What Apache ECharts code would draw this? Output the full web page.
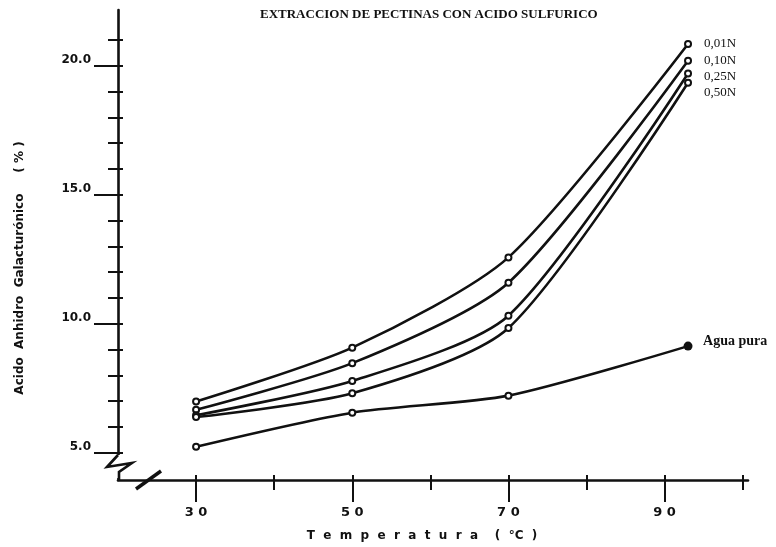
<!DOCTYPE html>
<html>
<head>
<meta charset="utf-8">
<script src="https://cdn.jsdelivr.net/npm/echarts@6/dist/echarts.min.js"></script>
<style>html,body{margin:0;padding:0;background:#fff}#chart{width:776px;height:547px}</style>
</head>
<body>
<div id="chart"></div>
<script>
// datos
const temperaturas = [30, 50, 70, 93];
const nombres = ['0,01N', '0,10N', '0,25N', '0,50N', 'Agua pura'];
const acido001 = [6.98, 9.07, 12.57, 20.84];
const acido010 = [6.66, 8.47, 11.59, 20.19];
const acido025 = [6.45, 7.78, 10.31, 19.70];
const acido050 = [6.38, 7.30, 9.83, 19.34];
const aguaPura = [5.23, 6.55, 7.21, 9.13];
const xEtiquetas = [30, 50, 70, 90];
const xMenores = [40, 60, 80, 100];
const xTodos = [30, 40, 50, 60, 70, 80, 90, 100];
const yEtiquetas = [5, 10, 15, 20];
const yMenores = [6, 7, 8, 9, 11, 12, 13, 14, 16, 17, 18, 19, 21];
const yTodos = [5, 6, 7, 8, 9, 10, 11, 12, 13, 14, 15, 16, 17, 18, 19, 20, 21];

const negro = '#111';
const xMin = 20, xMax = 100.68, yMin = 3.94, yMax = 22.16;

function ejeX(extra) {
    return Object.assign({
        type: 'value', position: 'bottom', min: xMin, max: xMax,
        axisLine: {show: false},
        axisLabel: {show: false},
        splitLine: {show: false}
    }, extra);
}
function ejeY(extra) {
    return Object.assign({
        type: 'value', position: 'left', min: yMin, max: yMax,
        axisLine: {show: false},
        axisLabel: {show: false},
        splitLine: {show: false}
    }, extra);
}

const offsets = [[8, 0], [8, 0], [8, 3], [8, 10], [7, -5]];
const valores = [acido001, acido010, acido025, acido050, aguaPura];

const series = valores.map((vals, i) => ({
    type: 'line',
    name: nombres[i],
    smooth: 0.25,
    symbol: 'emptyCircle',
    symbolSize: 6,
    lineStyle: {color: negro, width: 2.6},
    itemStyle: {color: negro, borderWidth: 1.6},
    data: vals.map((v, j) => {
        const p = {value: [temperaturas[j], v]};
        if (i === 4 && j === vals.length - 1) {
            p.symbol = 'circle'; p.symbolSize = 9;
        }
        return p;
    }),
    endLabel: {
        show: true,
        formatter: nombres[i],
        offset: offsets[i],
        color: negro,
        fontFamily: 'Liberation Serif',
        fontSize: i === 4 ? 14 : 13,
        fontWeight: i === 4 ? 'bold' : 'normal'
    },
    z: 3
}));

const chart = echarts.init(document.getElementById('chart'));
chart.setOption({
    animation: false,
    backgroundColor: '#fff',
    title: {
        text: 'EXTRACCION DE PECTINAS CON ACIDO SULFURICO',
        left: 255, top: 3,
        textStyle: {fontFamily: 'Liberation Serif', fontSize: 13, fontWeight: 'bold', color: negro}
    },
    grid: {left: 118, right: 28, top: 10, bottom: 67},
    xAxis: [
        ejeX({
            axisLine: {show: true, lineStyle: {color: negro, width: 2.6}},
            axisTick: {show: true, customValues: xEtiquetas, length: 22, lineStyle: {color: negro, width: 2}},
            axisLabel: {
                show: true, customValues: xEtiquetas, margin: 26,
                formatter: v => String(v).split('').join(' '),
                color: negro, fontFamily: 'DejaVu Sans', fontSize: 13, fontWeight: 'bold'
            },
            name: 'T  e  m  p  e  r  a  t  u  r  a    (  °C  )',
            nameLocation: 'middle', nameGap: 50,
            nameTextStyle: {color: negro, fontFamily: 'DejaVu Sans', fontSize: 12, fontWeight: 'bold', padding: [0, 22, 0, 0]}
        }),
        ejeX({axisTick: {show: true, customValues: xMenores, length: 10, lineStyle: {color: negro, width: 2}}}),
        ejeX({axisTick: {show: true, inside: true, customValues: xTodos, length: 5, lineStyle: {color: negro, width: 2}}})
    ],
    yAxis: [
        ejeY({
            axisLine: {show: true, lineStyle: {color: negro, width: 2.6}},
            axisTick: {show: true, customValues: yEtiquetas, length: 24, lineStyle: {color: negro, width: 2}},
            axisLabel: {
                show: true, customValues: yEtiquetas, margin: 27,
                formatter: v => v.toFixed(1),
                verticalAlign: 'bottom',
                color: negro, fontFamily: 'DejaVu Sans', fontSize: 12, fontWeight: 'bold'
            },
            name: 'Acido  Anhidro  Galacturónico     ( % )',
            nameLocation: 'middle', nameGap: 92, nameRotate: 90,
            nameTextStyle: {color: negro, fontFamily: 'DejaVu Sans', fontSize: 12, fontWeight: 'bold', padding: [0, 46, 0, 0]}
        }),
        ejeY({axisTick: {show: true, customValues: yMenores, length: 10, lineStyle: {color: negro, width: 2}}}),
        ejeY({axisTick: {show: true, inside: true, customValues: yTodos, length: 5, lineStyle: {color: negro, width: 2}}})
    ],
    series: series,
    graphic: [
        // corte de los ejes
        {type: 'rect', shape: {x: 110, y: 455, width: 16, height: 23}, style: {fill: '#fff'}, z: 10},
        {type: 'polyline', shape: {points: [[118, 455], [107, 467], [132, 463], [119, 472], [119, 480]]},
            style: {stroke: negro, lineWidth: 2.6, fill: null}, z: 11},
        {type: 'line', shape: {x1: 136, y1: 489, x2: 161, y2: 471},
            style: {stroke: negro, lineWidth: 3.5}, z: 11}
    ]
});
</script>
</body>
</html>
